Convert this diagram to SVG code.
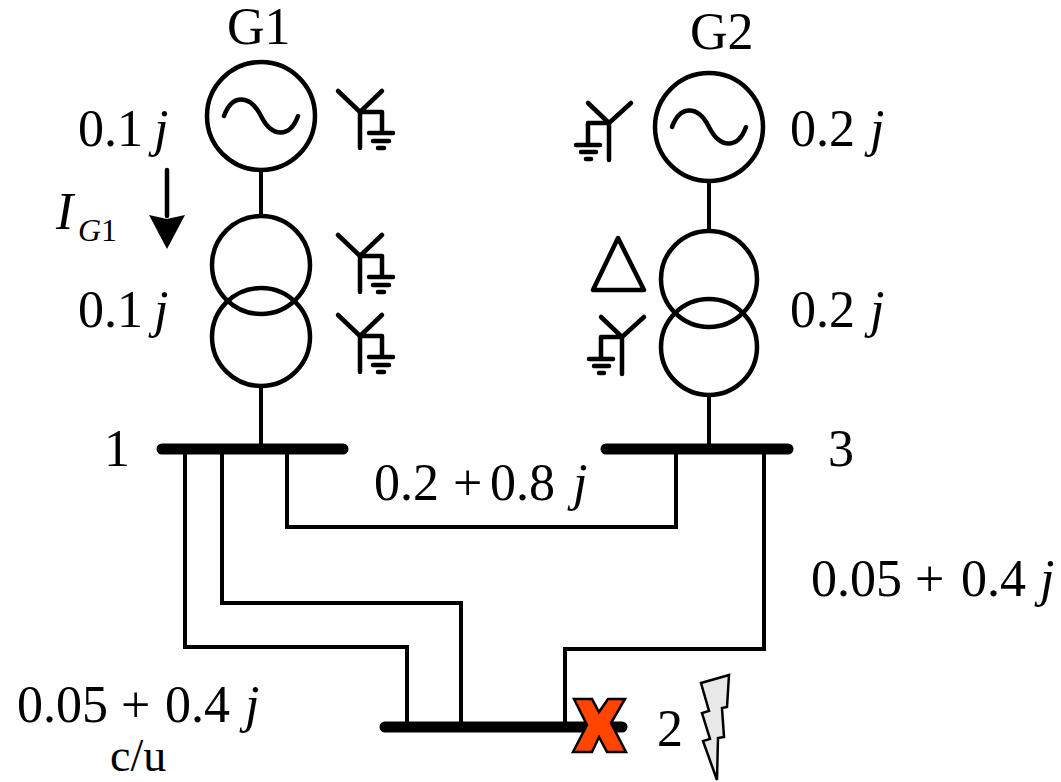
<svg xmlns="http://www.w3.org/2000/svg" width="1061" height="782" viewBox="0 0 1061 782">
<style>
text{font-family:"Liberation Serif","Times New Roman",serif;font-size:52px;fill:#000}
.i{font-style:italic}
.sub{font-size:32px}
.w{fill:none;stroke:#000;stroke-width:4}
.m{fill:none;stroke:#000;stroke-width:4.5;stroke-linecap:round}
.c{fill:none;stroke:#000;stroke-width:4.5}
.bus{stroke:#000;stroke-width:11;stroke-linecap:round;fill:none}
.s{fill:none;stroke:#000;stroke-width:4.5;stroke-linecap:round;stroke-linejoin:round}
</style>
<defs>
<g id="yr"><path class="s" d="M338 91L360 112L382 91M360 112V148M360 112H382V133M369 133H393M373 141H389M378 148H384"/></g>
<g id="yl"><path class="s" d="M588 103L609 123L631 103M609 123V160M609 123H588V145M576 145H600M581 152H596M586 159H591"/></g>
</defs>
<g id="connectors">
<path class="w" d="M261 171V216M261 386V449M709 181V231M709 395V449"/>
<path class="w" d="M185 449V647H407V727"/>
<path class="w" d="M222 449V603H461V727"/>
<path class="w" d="M287 449V527H676V449"/>
<path class="w" d="M764 449V649H565V727"/>
</g>
<g id="G1"><circle class="c" cx="261" cy="116" r="54"/><path class="m" d="M224 116C232 94 250 94 261 116C272 138 290 138 298 116"/><text x="227" y="44">G1</text></g>
<g id="G2"><circle class="c" cx="709" cy="127" r="54"/><path class="m" d="M672 127C680 105 698 105 709 127C720 149 738 149 746 127"/><text x="690" y="49">G2</text></g>
<g id="T1"><circle class="c" cx="261" cy="265" r="49"/><circle class="c" cx="261" cy="337" r="49"/></g>
<g id="T2"><circle class="c" cx="709" cy="279" r="48"/><circle class="c" cx="709" cy="347" r="48"/></g>
<g id="G1-winding"><use href="#yr"/></g>
<g id="T1-winding-a"><use href="#yr" y="144"/></g>
<g id="T1-winding-b"><use href="#yr" y="224"/></g>
<g id="G2-winding"><use href="#yl"/></g>
<g id="T2-delta"><path class="s" d="M618 238L593 290H644Z"/></g>
<g id="T2-winding"><use href="#yl" x="13" y="214"/></g>
<g id="bus1"><path class="bus" d="M162 449H343"/><text x="104" y="466">1</text></g>
<g id="bus3"><path class="bus" d="M606 449H788"/><text x="828" y="466">3</text></g>
<g id="bus2"><path class="bus" d="M385 727H622"/><text x="657" y="746">2</text></g>
<g id="fault">
<polygon points="574,699 592,699 599,712 608,699 625,699 611,723 626,752 607,752 599,737 592,752 573,752 587,725" fill="#ff4500" stroke="#000" stroke-width="2.5"/>
<polygon points="701,683 729,675 727,707 722,708 724,737 718,738 717,780 703,741 710,739 702,713 709,711" fill="#e8e8e8" stroke="#000" stroke-width="2.5"/>
</g>
<g id="current">
<path d="M167 170V216" class="s"/>
<polygon points="149,215 167,219 185,215 167,249" fill="#000"/>
<text x="56" y="229" class="i">I</text><text x="78" y="241" class="sub i">G</text><text x="101" y="241" class="sub">1</text>
</g>
<g id="labels">
<text x="78" y="146">0.1</text><text x="154" y="146" class="i">j</text>
<text x="78" y="327">0.1</text><text x="154" y="327" class="i">j</text>
<text x="790" y="146">0.2</text><text x="870" y="146" class="i">j</text>
<text x="790" y="327">0.2</text><text x="870" y="327" class="i">j</text>
<text x="374" y="500">0.2</text><text x="453" y="500">+</text><text x="490" y="500">0.8</text><text x="573" y="500" class="i">j</text>
<text x="811" y="596">0.05</text><text x="915" y="596">+</text><text x="961" y="596">0.4</text><text x="1040" y="596" class="i">j</text>
<text x="17" y="722">0.05</text><text x="121" y="722">+</text><text x="165" y="722">0.4</text><text x="245" y="722" class="i">j</text>
<text x="110" y="771" style="font-size:46px">c/u</text>
</g>
</svg>
